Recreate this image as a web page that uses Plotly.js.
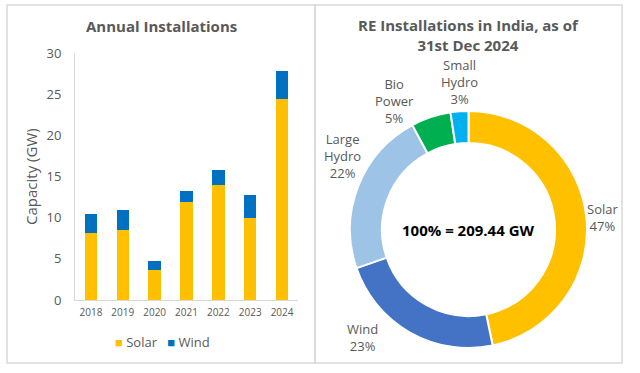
<!DOCTYPE html>
<html>
<head>
<meta charset="utf-8">
<script src="https://cdn.plot.ly/plotly-3.0.1.min.js"></script>
<style>
html,body{margin:0;padding:0;background:#fff;}
#chart{width:640px;height:373px;}
</style>
</head>
<body>
<div id="chart"></div>
<script>
// Annual installations (GW)
const years = ['2018','2019','2020','2021','2022','2023','2024'];
const solarAdd = [8.1, 8.5, 3.7, 11.9, 14.0, 10.0, 24.5];
const windAdd  = [2.3, 2.4, 1.1, 1.4, 1.8, 2.8, 3.4];
const barNames = ['Solar', 'Wind'];
const barColors = ['#FFC000', '#0070C0'];

// Cumulative RE installations as of 31 Dec 2024 (GW)
const reLabels = ['Solar', 'Wind', 'Large<br>Hydro', 'Bio<br>Power', 'Small<br>Hydro'];
const reValues = [97.86, 48.16, 46.97, 11.35, 5.10];
const rePctText = ['47%', '23%', '22%', '5%', '3%'];
const reColors = ['#FFC000', '#4472C4', '#9DC3E6', '#00B050', '#00B0F0'];

const W = 640, H = 373;
const px = x => x / W;
const py = y => 1 - y / H;
const FONT = '"Open Sans", "Noto Sans", sans-serif';
const GREY = '#595959';

const total = reValues.reduce((a, b) => a + b, 0);

const traces = [
  {
    type: 'bar', name: barNames[0], x: years, y: solarAdd,
    marker: {color: barColors[0]}, xaxis: 'x', yaxis: 'y', hoverinfo: 'skip', showlegend: false
  },
  {
    type: 'bar', name: barNames[1], x: years, y: windAdd,
    marker: {color: barColors[1]}, xaxis: 'x', yaxis: 'y', hoverinfo: 'skip', showlegend: false
  },
  {
    type: 'pie', labels: reLabels, values: reValues,
    textinfo: 'none',
    sort: false, direction: 'clockwise', rotation: 0, hole: 0.73,
    marker: {colors: reColors, line: {color: '#ffffff', width: 2}},
    domain: {x: [px(350), px(587)], y: [py(348), py(111)]},
    showlegend: false, hoverinfo: 'skip'
  }
];

// Positions of the outside slice labels (text placement only)
const labelPos = [[602, 218], [362, 337], [342, 156], [394, 101], [459, 82]];
const sliceLabelAnns = reLabels.map((lab, i) => ({
  xref: 'paper', yref: 'paper', x: px(labelPos[i][0]), y: py(labelPos[i][1]),
  xanchor: 'center', yanchor: 'middle', showarrow: false,
  text: lab + '<br>' + rePctText[i], font: {size: 13, color: GREY}
}));

const legendText = barNames.map((n, i) =>
  '<span style="color:' + barColors[i] + '">■</span> ' + n).join('   ');

const borderLine = {color: '#D9D9D9', width: 1.5};
const layout = {
  width: W, height: H,
  margin: {l: 0, r: 0, t: 0, b: 0},
  paper_bgcolor: '#ffffff', plot_bgcolor: '#ffffff',
  font: {family: FONT, color: GREY},
  barmode: 'stack', bargap: 0.61,
  showlegend: false,
  xaxis: {
    domain: [px(75), px(298)], anchor: 'y', automargin: false,
    showline: true, linecolor: '#D9D9D9', linewidth: 1,
    tickmode: 'linear', dtick: 1,
    ticks: '', tickfont: {size: 10, color: GREY}, ticklabelstandoff: 3,
    fixedrange: true
  },
  yaxis: {
    domain: [py(300), py(53.3)], anchor: 'x', automargin: false,
    range: [0, 30], dtick: 5, showgrid: false, zeroline: false,
    showline: true, linecolor: '#D9D9D9', linewidth: 1,
    ticks: '', tickfont: {size: 13, color: GREY}, ticklabelstandoff: 10,
    title: {text: 'Capacity (GW)', font: {size: 15, color: GREY}, standoff: 5},
    fixedrange: true
  },
  shapes: [
    {type: 'rect', xref: 'paper', yref: 'paper', x0: px(7), x1: px(315), y0: py(363), y1: py(5), line: borderLine},
    {type: 'rect', xref: 'paper', yref: 'paper', x0: px(315), x1: px(622), y0: py(363), y1: py(5), line: borderLine}
  ],
  annotations: [
    {xref: 'paper', yref: 'paper', x: px(161), y: py(26), xanchor: 'center', yanchor: 'middle',
     text: '<b>Annual Installations</b>', showarrow: false, font: {size: 15, color: GREY}},
    {xref: 'paper', yref: 'paper', x: px(468), y: py(35.5), xanchor: 'center', yanchor: 'middle',
     text: '<b>RE Installations in India, as of<br>31st Dec 2024</b>',
     showarrow: false, font: {size: 15, color: GREY}},
    {xref: 'paper', yref: 'paper', x: px(468.5), y: py(230), xanchor: 'center', yanchor: 'middle',
     text: '<b>100% = ' + total.toFixed(2) + ' GW</b>',
     showarrow: false, font: {size: 15, color: '#000000'}},
    {xref: 'paper', yref: 'paper', x: px(162), y: py(342), xanchor: 'center', yanchor: 'middle',
     text: legendText, showarrow: false, font: {size: 13, color: GREY}}
  ].concat(sliceLabelAnns)
};

Plotly.newPlot('chart', traces, layout, {displayModeBar: false, staticPlot: true});
</script>
</body>
</html>
